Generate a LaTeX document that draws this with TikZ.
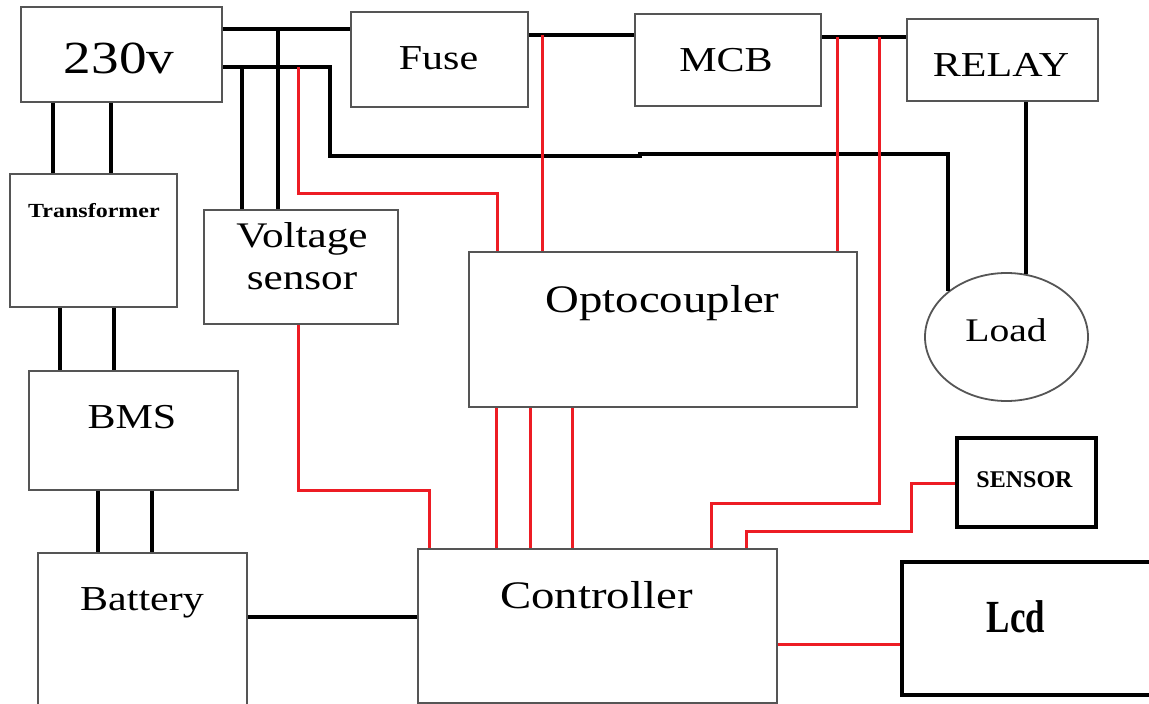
\documentclass[tikz,border=0pt]{standalone}
\usepackage{fontspec}
\setmainfont{Liberation Serif}[FakeStretch=1.2]
\newfontfamily\plainserif{Liberation Serif}
\newfontfamily\narrowserif{Liberation Serif}[FakeStretch=0.76]
\usetikzlibrary{positioning, shapes.geometric, calc}
\definecolor{wirered}{RGB}{237,28,36}
\definecolor{boxgray}{RGB}{85,85,85}

\begin{document}
\begin{tikzpicture}[
		x=1pt, y=-1pt,
		block/.style={draw=boxgray, line width=1.8pt, inner sep=0pt},
		heavy/.style={draw=black, line width=3.2pt, inner sep=0pt},
		wire/.style={black, line width=3.5pt},
		sig/.style={wirered, line width=3pt},
		lbl/.style={anchor=base, inner sep=0pt}
		]
		\useasboundingbox (0,0) rectangle (1149,704);
		
		% ==========================================
		% 1. BLOCKS
		% ==========================================
		\node[block, minimum width=201pt, minimum height=95pt] (src) at (121.5,54.5) {};
		\node[block, minimum width=177pt, minimum height=95pt] (fuse) at (439.5,59.5) {};
		\node[block, minimum width=186pt, minimum height=92pt] (mcb) at (728,60) {};
		\node[block, minimum width=191pt, minimum height=82pt] (relay) at (1002.5,60) {};
		\node[block, minimum width=167pt, minimum height=133pt] (trans) at (93.5,240.5) {};
		\node[block, minimum width=194pt, minimum height=114pt] (vsens) at (301,267) {};
		\node[block, minimum width=388pt, minimum height=155pt] (opto) at (663,329.5) {};
		\node[block, ellipse, minimum width=163pt, minimum height=128pt] (load) at (1006.5,337) {};
		\node[block, minimum width=209pt, minimum height=119pt] (bms) at (133.5,430.5) {};
		\node[block, minimum width=209pt, minimum height=170pt] (batt) at (142.5,638) {};
		\node[block, minimum width=359pt, minimum height=154pt] (ctrl) at (597.5,626) {};
		\node[heavy, minimum width=139pt, minimum height=89pt] (sensor) at (1026.5,482.5) {};
		\node[heavy, minimum width=263pt, minimum height=133pt] (lcd) at (1033.5,628.5) {};
		
		% labels
		\node[lbl, font=\fontsize{46}{50}\selectfont] (srcT) at (119,73) {230v};
		\node[lbl, font=\fontsize{35}{40}\selectfont] (fuseT) at (438.5,69) {Fuse};
		\node[lbl, font=\fontsize{35}{40}\selectfont] (mcbT) at (726,71) {MCB};
		\node[lbl, font=\fontsize{35}{40}\selectfont] (relayT) at (1001,76) {RELAY};
		\node[lbl, font=\fontsize{20}{24}\selectfont\bfseries] (transT) at (94,217) {Transformer};
		\node[lbl, font=\fontsize{36}{42}\selectfont] (vsensT) at (302,247) {Voltage};
		\node[lbl, font=\fontsize{36}{42}\selectfont] (vsensU) at (302,289) {sensor};
		\node[lbl, font=\fontsize{39}{44}\selectfont] (optoT) at (662.5,312) {Optocoupler};
		\node[lbl, font=\fontsize{33}{38}\selectfont] (loadT) at (1006,341) {Load};
		\node[lbl, font=\fontsize{35}{40}\selectfont] (bmsT) at (132,428) {BMS};
		\node[lbl, font=\fontsize{35}{40}\selectfont] (battT) at (142,610) {Battery};
		\node[lbl, font=\fontsize{39}{44}\selectfont] (ctrlT) at (596.5,608) {Controller};
		\node[lbl, font=\fontsize{24}{28}\selectfont\plainserif\bfseries] (sensorT) at (1024.5,487) {SENSOR};
		\node[lbl, font=\fontsize{46}{50}\selectfont\narrowserif\bfseries] (lcdT) at (1016,632) {Lcd};
		
		% ==========================================
		% 2. MAINS SIDE (black)
		% ==========================================
		\coordinate (tapA) at (278,29);
		\coordinate (tapB) at (242,67);
		\draw[wire] (src.east |- 0,29) -- (fuse.west |- 0,29);
		\draw[wire] (tapA) -- (tapA |- vsens.north);
		\draw[wire] (src.east |- 0,67) -| (330,156) -- (640,156) -- (640,154) -| (load.north west);
		\draw[wire] (tapB) -- (tapB |- vsens.north);
		\draw[wire] (fuse.east |- 0,35) -- (mcb.west |- 0,35);
		\draw[wire] (mcb.east |- 0,37) -- (relay.west |- 0,37);
		\draw[wire] (load.73 |- relay.south) -- (load.73);
		
		\foreach \x in {53,111} \draw[wire] (src.south -| \x,0) -- (trans.north -| \x,0);
		\foreach \x in {60,114} \draw[wire] (trans.south -| \x,0) -- (bms.north -| \x,0);
		\foreach \x in {98,152} \draw[wire] (bms.south -| \x,0) -- (batt.north -| \x,0);
		\draw[wire] (batt.east |- 0,617) -- (ctrl.west |- 0,617);
		
		% ==========================================
		% 3. SIGNAL LINES (red)
		% ==========================================
		\coordinate (tapC) at (298,67);
		\coordinate (tapD) at (542,35);
		\coordinate (tapE) at (837,37);
		\coordinate (tapF) at (879,37);
		\draw[sig] (tapC) |- (497,193) -- (opto.north -| 497,0);
		\draw[sig] (tapD) -- (tapD |- opto.north);
		\draw[sig] (tapE) -- (tapE |- opto.north);
		\draw[sig] (tapF) |- (711,503) -- (ctrl.north -| 711,0);
		\draw[sig] (vsens.south -| 298,0) |- (429,490) -- (ctrl.north -| 429,0);
		\foreach \x in {496,530,572} \draw[sig] (opto.south -| \x,0) -- (ctrl.north -| \x,0);
		\draw[sig] (sensor.west |- 0,483) -| (911,531) -| (ctrl.north -| 746,0);
		\draw[sig] (ctrl.east |- 0,644) -- (lcd.west |- 0,644);
		
	\end{tikzpicture}
\end{document}
